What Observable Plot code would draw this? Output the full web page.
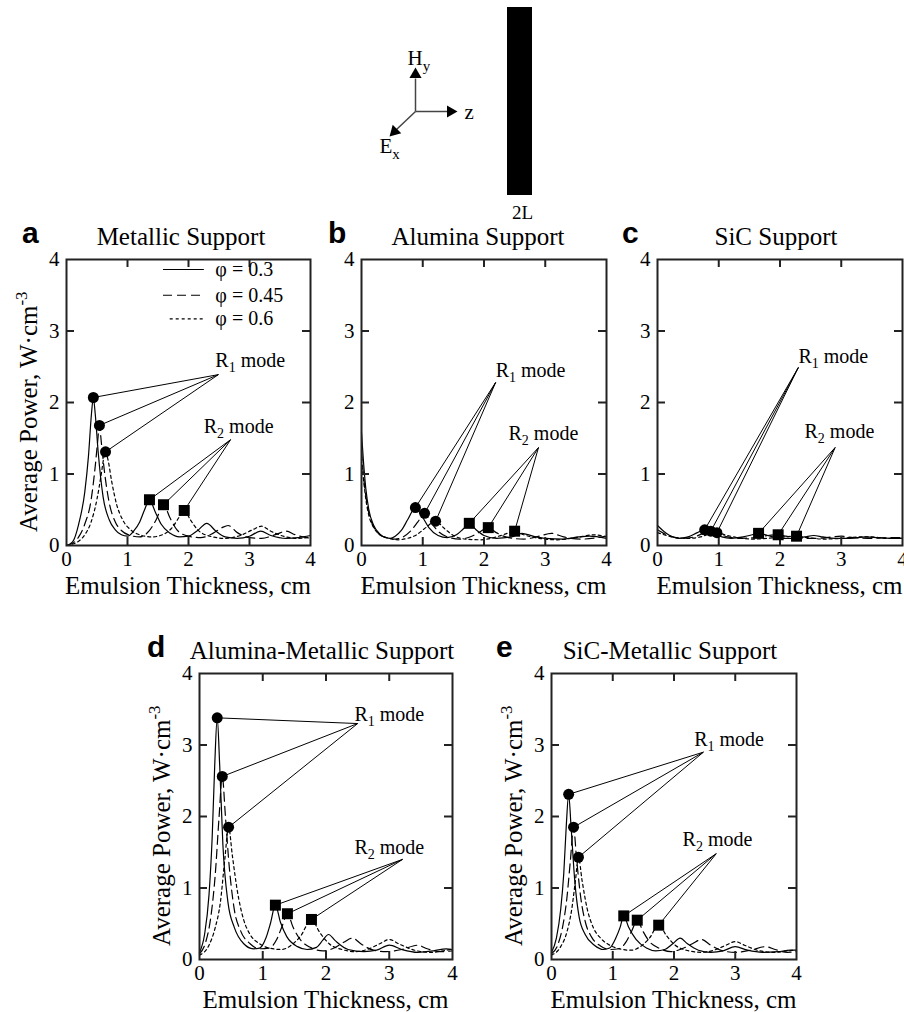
<!DOCTYPE html>
<html><head><meta charset="utf-8">
<script src="https://cdn.jsdelivr.net/npm/d3@7"></script>
<script src="https://cdn.jsdelivr.net/npm/@observablehq/plot@0.6"></script>
<style>
html,body{margin:0;padding:0;background:#fff;}
#page{position:relative;width:904px;height:1012px;overflow:hidden;background:#fff;font-family:"Liberation Serif","Times New Roman",serif;}
#page > svg{position:absolute;}
#page svg text{font-family:"Liberation Serif","Times New Roman",serif;}
#page svg text.letter{font-family:"Liberation Sans",Arial,sans-serif;font-weight:bold;}
</style></head>
<body><div id="page"></div>
<script>
// ---------- data ----------
const ticksAll = [0, 1, 2, 3, 4];
const ticksInner = [1, 2, 3];
const legendLabels = ["φ = 0.3", "φ = 0.45", "φ = 0.6"];
const legendY = [3.86, 3.5, 3.17];
const legendX1 = [1.59, 1.59, 1.7];
const legendX2 = 2.26;
const legendTextX = 2.44;
const panelLetters = ["a", "b", "c", "d", "e"];
const panelTitles = ["Metallic Support", "Alumina Support", "SiC Support", "Alumina-Metallic Support", "SiC-Metallic Support"];
const xTitle = "Emulsion Thickness, cm";
const yTitle = "Average Power, W·cm";
const yTitleSup = "-3";
const r1Text = "R_1 mode";
const r2Text = "R_2 mode";

// Panel a: Metallic support
const aSolid = [[0,0],[0.1,0.05],[0.2,0.3],[0.3,0.75],[0.36,1.25],[0.41,1.85],[0.44,2.07],[0.47,1.85],[0.52,1.3],[0.6,0.68],[0.7,0.36],[0.8,0.22],[0.9,0.15],[1.0,0.13],[1.1,0.2],[1.2,0.33],[1.28,0.5],[1.36,0.64],[1.45,0.48],[1.55,0.3],[1.7,0.17],[1.85,0.12],[2.0,0.13],[2.15,0.21],[2.3,0.31],[2.45,0.2],[2.6,0.12],[2.8,0.1],[3.0,0.13],[3.18,0.2],[3.35,0.14],[3.6,0.1],[3.8,0.11],[4.0,0.14]];
const aDashed = [[0,0],[0.1,0.03],[0.2,0.12],[0.3,0.3],[0.4,0.62],[0.47,1.1],[0.51,1.45],[0.54,1.68],[0.57,1.45],[0.62,1.05],[0.7,0.6],[0.8,0.33],[0.9,0.21],[1.05,0.14],[1.2,0.12],[1.35,0.2],[1.47,0.36],[1.59,0.57],[1.7,0.38],[1.82,0.21],[2.0,0.13],[2.2,0.11],[2.4,0.17],[2.55,0.25],[2.65,0.28],[2.8,0.18],[3.0,0.11],[3.2,0.1],[3.45,0.16],[3.6,0.2],[3.75,0.15],[4.0,0.1]];
const aDotted = [[0,0],[0.2,0.06],[0.3,0.15],[0.4,0.32],[0.5,0.65],[0.57,1.0],[0.61,1.22],[0.64,1.31],[0.68,1.2],[0.74,0.9],[0.82,0.58],[0.92,0.36],[1.05,0.22],[1.2,0.15],[1.4,0.12],[1.6,0.16],[1.75,0.27],[1.85,0.4],[1.93,0.49],[2.03,0.36],[2.15,0.22],[2.35,0.13],[2.6,0.1],[2.85,0.14],[3.05,0.22],[3.2,0.27],[3.35,0.2],[3.6,0.12],[3.8,0.1],[4.0,0.12]];
const aR1 = [[0.44,2.07],[0.54,1.68],[0.64,1.31]];
const aR2 = [[1.36,0.64],[1.59,0.57],[1.93,0.49]];
const aR1Focus = [2.49,2.39], aR2Focus = [2.69,1.48];
const aR1Label = [2.44,2.49], aR2Label = [2.25,1.58];

// Panel b: Alumina support
const bSolid = [[0,1.58],[0.03,1.2],[0.07,0.8],[0.12,0.5],[0.2,0.28],[0.3,0.16],[0.4,0.11],[0.47,0.1],[0.55,0.13],[0.65,0.21],[0.76,0.37],[0.88,0.53],[0.98,0.42],[1.1,0.25],[1.25,0.14],[1.4,0.11],[1.55,0.15],[1.66,0.23],[1.76,0.31],[1.87,0.22],[2.0,0.14],[2.2,0.1],[2.45,0.12],[2.62,0.17],[2.8,0.13],[3.0,0.1],[3.3,0.09],[3.55,0.12],[3.72,0.13],[4.0,0.1]];
const bDashed = [[0,1.32],[0.03,1.0],[0.07,0.7],[0.12,0.45],[0.2,0.26],[0.3,0.15],[0.45,0.1],[0.55,0.09],[0.68,0.12],[0.8,0.2],[0.92,0.33],[1.03,0.45],[1.13,0.33],[1.25,0.2],[1.4,0.12],[1.6,0.09],[1.8,0.13],[1.95,0.2],[2.07,0.25],[2.2,0.18],[2.4,0.11],[2.65,0.09],[2.9,0.13],[3.1,0.17],[3.3,0.12],[3.6,0.09],[3.85,0.11],[4.0,0.13]];
const bDotted = [[0,1.2],[0.03,0.95],[0.07,0.65],[0.12,0.42],[0.2,0.25],[0.3,0.15],[0.45,0.1],[0.6,0.08],[0.75,0.1],[0.9,0.15],[1.05,0.25],[1.21,0.34],[1.35,0.24],[1.5,0.14],[1.7,0.09],[1.95,0.08],[2.2,0.12],[2.38,0.17],[2.5,0.2],[2.65,0.15],[2.9,0.1],[3.2,0.08],[3.5,0.11],[3.8,0.15],[4.0,0.12]];
const bR1 = [[0.88,0.53],[1.03,0.45],[1.21,0.34]];
const bR2 = [[1.76,0.31],[2.07,0.25],[2.5,0.2]];
const bR1Focus = [2.19,2.28], bR2Focus = [2.89,1.37];
const bR1Label = [2.19,2.35], bR2Label = [2.4,1.47];

// Panel c: SiC support
const cSolid = [[0,0.28],[0.1,0.2],[0.2,0.14],[0.35,0.1],[0.5,0.12],[0.65,0.18],[0.77,0.22],[0.9,0.18],[1.05,0.12],[1.2,0.1],[1.4,0.12],[1.55,0.15],[1.65,0.17],[1.8,0.14],[2.0,0.1],[2.2,0.1],[2.4,0.12],[2.55,0.14],[2.7,0.12],[2.9,0.1],[3.15,0.1],[3.4,0.12],[3.6,0.11],[3.8,0.1],[4.0,0.1]];
const cDashed = [[0,0.22],[0.1,0.17],[0.25,0.12],[0.4,0.1],[0.6,0.12],[0.75,0.17],[0.87,0.2],[1.0,0.16],[1.15,0.12],[1.35,0.1],[1.6,0.11],[1.8,0.14],[1.97,0.15],[2.1,0.13],[2.35,0.1],[2.6,0.1],[2.85,0.12],[3.0,0.13],[3.2,0.11],[3.5,0.1],[3.8,0.11],[4.0,0.11]];
const cDotted = [[0,0.18],[0.15,0.14],[0.3,0.11],[0.5,0.1],[0.7,0.12],[0.85,0.16],[0.97,0.18],[1.1,0.15],[1.3,0.11],[1.55,0.09],[1.8,0.1],[2.05,0.12],[2.27,0.13],[2.45,0.11],[2.7,0.09],[3.0,0.1],[3.3,0.12],[3.5,0.12],[3.75,0.1],[4.0,0.1]];
const cR1 = [[0.77,0.22],[0.87,0.2],[0.97,0.18]];
const cR2 = [[1.65,0.17],[1.97,0.15],[2.27,0.13]];
const cR1Focus = [2.3,2.49], cR2Focus = [2.9,1.37];
const cR1Label = [2.3,2.55], cR2Label = [2.4,1.51];

// Panel d: Alumina-Metallic support
const dSolid = [[0,0.1],[0.08,0.35],[0.15,0.9],[0.2,1.7],[0.24,2.7],[0.28,3.38],[0.32,2.7],[0.37,1.6],[0.45,0.8],[0.55,0.45],[0.7,0.22],[0.85,0.15],[0.95,0.16],[1.05,0.3],[1.12,0.5],[1.2,0.76],[1.28,0.52],[1.38,0.32],[1.55,0.18],[1.7,0.14],[1.85,0.17],[1.95,0.27],[2.04,0.35],[2.15,0.26],[2.35,0.14],[2.6,0.11],[2.8,0.13],[3.0,0.2],[3.2,0.14],[3.45,0.1],[3.7,0.12],[3.9,0.15],[4.0,0.14]];
const dDashed = [[0,0.08],[0.1,0.25],[0.18,0.6],[0.25,1.2],[0.31,2.0],[0.36,2.56],[0.41,2.0],[0.47,1.3],[0.55,0.7],[0.65,0.4],[0.8,0.22],[0.95,0.15],[1.1,0.16],[1.22,0.28],[1.3,0.45],[1.39,0.64],[1.48,0.45],[1.6,0.27],[1.75,0.17],[1.95,0.12],[2.1,0.15],[2.28,0.24],[2.42,0.3],[2.55,0.22],[2.75,0.13],[2.95,0.11],[3.2,0.14],[3.45,0.2],[3.6,0.15],[3.8,0.11],[4.0,0.12]];
const dDotted = [[0,0.06],[0.15,0.2],[0.25,0.45],[0.33,0.8],[0.4,1.4],[0.46,1.85],[0.52,1.45],[0.6,0.95],[0.7,0.55],[0.8,0.35],[0.95,0.22],[1.1,0.16],[1.3,0.14],[1.45,0.2],[1.6,0.33],[1.77,0.56],[1.9,0.38],[2.05,0.22],[2.25,0.14],[2.45,0.11],[2.65,0.14],[2.85,0.22],[3.0,0.28],[3.15,0.22],[3.4,0.13],[3.65,0.1],[3.85,0.12],[4.0,0.15]];
const dR1 = [[0.28,3.38],[0.36,2.56],[0.46,1.85]];
const dR2 = [[1.2,0.76],[1.39,0.64],[1.77,0.56]];
const dR1Focus = [2.5,3.3], dR2Focus = [3.21,1.4];
const dR1Label = [2.45,3.34], dR2Label = [2.45,1.48];

// Panel e: SiC-Metallic support
const eSolid = [[0,0.1],[0.08,0.3],[0.15,0.7],[0.2,1.2],[0.24,1.85],[0.28,2.31],[0.32,1.85],[0.38,1.1],[0.45,0.6],[0.55,0.35],[0.7,0.2],[0.85,0.14],[0.95,0.16],[1.05,0.3],[1.12,0.45],[1.18,0.61],[1.26,0.45],[1.38,0.28],[1.55,0.16],[1.7,0.12],[1.85,0.14],[1.98,0.22],[2.1,0.3],[2.22,0.22],[2.4,0.13],[2.6,0.1],[2.8,0.12],[3.0,0.18],[3.2,0.13],[3.45,0.1],[3.7,0.11],[3.9,0.13],[4.0,0.13]];
const eDashed = [[0,0.08],[0.1,0.2],[0.18,0.45],[0.25,0.85],[0.31,1.4],[0.36,1.85],[0.41,1.4],[0.48,0.85],[0.56,0.5],[0.65,0.32],[0.8,0.19],[0.95,0.14],[1.1,0.15],[1.22,0.25],[1.31,0.4],[1.4,0.55],[1.49,0.4],[1.6,0.25],[1.75,0.16],[1.95,0.11],[2.1,0.14],[2.3,0.22],[2.45,0.28],[2.6,0.2],[2.8,0.12],[3.0,0.1],[3.25,0.13],[3.5,0.18],[3.65,0.14],[3.85,0.1],[4.0,0.11]];
const eDotted = [[0,0.06],[0.15,0.18],[0.25,0.38],[0.33,0.7],[0.39,1.1],[0.44,1.43],[0.5,1.1],[0.58,0.72],[0.68,0.45],[0.8,0.3],[0.95,0.2],[1.1,0.15],[1.3,0.13],[1.45,0.18],[1.6,0.3],[1.75,0.48],[1.88,0.33],[2.02,0.2],[2.2,0.13],[2.45,0.1],[2.65,0.13],[2.85,0.2],[3.0,0.25],[3.15,0.2],[3.4,0.12],[3.65,0.1],[3.85,0.12],[4.0,0.13]];
const eR1 = [[0.28,2.31],[0.36,1.85],[0.44,1.43]];
const eR2 = [[1.18,0.61],[1.4,0.55],[1.75,0.48]];
const eR1Focus = [2.48,2.9], eR2Focus = [2.69,1.48];
const eR1Label = [2.33,2.99], eR2Label = [2.14,1.59];

// Schematic (pixel units of the schematic drawing)
const diagOrigin = [415, 111];
const diagShafts = [[415, 78], [448, 111], [396, 129]];
const diagHeads = [[415, 74, 0], [450, 111, 90], [394, 131, -135]];
const diagLabels = [["H_y", 407, 64], ["z", 464, 118], ["E_x", 379, 152]];
const slab = [[507, 532, 7, 195]];
const slabLabel = ["2L", 522, 218];

// ---------- layout / style ----------
const dashes = [null, "9,5", "3,3"];
const layout = [
  {fl: 66,  ft: 259, fw: 244, yT: true,  lx: 22,  tx: 181},
  {fl: 361, ft: 259, fw: 245, yT: false, lx: 328, tx: 478},
  {fl: 657, ft: 259, fw: 245, yT: false, lx: 622, tx: 776},
  {fl: 199, ft: 673, fw: 253, yT: true,  lx: 147, tx: 322},
  {fl: 551, ft: 673, fw: 245, yT: true,  lx: 496, tx: 670}
];
const FH = 286;
const page = document.getElementById("page");
const FONT = "'Liberation Serif','Times New Roman',serif";

function subify(svg, subSize, shift) {
  d3.select(svg).selectAll("text").each(function () {
    const t = this.textContent;
    const m = t.match(/^([^_]*)_(\S)(.*)$/);
    if (!m) return;
    const sel = d3.select(this);
    sel.text(null);
    sel.append("tspan").text(m[1]);
    sel.append("tspan").attr("dy", shift).attr("font-size", subSize).text(m[2]);
    if (m[3]) sel.append("tspan").attr("dy", -shift).text(m[3]);
  });
}

const panels = [
  {curves: [aSolid, aDashed, aDotted], r1: aR1, r2: aR2, f1: aR1Focus, f2: aR2Focus, l1: aR1Label, l2: aR2Label, legend: true},
  {curves: [bSolid, bDashed, bDotted], r1: bR1, r2: bR2, f1: bR1Focus, f2: bR2Focus, l1: bR1Label, l2: bR2Label},
  {curves: [cSolid, cDashed, cDotted], r1: cR1, r2: cR2, f1: cR1Focus, f2: cR2Focus, l1: cR1Label, l2: cR2Label},
  {curves: [dSolid, dDashed, dDotted], r1: dR1, r2: dR2, f1: dR1Focus, f2: dR2Focus, l1: dR1Label, l2: dR2Label},
  {curves: [eSolid, eDashed, eDotted], r1: eR1, r2: eR2, f1: eR1Focus, f2: eR2Focus, l1: eR1Label, l2: eR2Label}
];

panels.forEach((p, i) => {
  const L = layout[i];
  const mL = 45, mT = 12, mR = 12, mB = 30;
  const kx = 8 / (L.fw / 4), ky = 8 / (FH / 4);
  const marks = [];
  p.curves.forEach((c, j) => {
    marks.push(Plot.line(c, {x: d => d[0], y: d => d[1], stroke: "#000", strokeWidth: 1.2,
      strokeDasharray: dashes[j], curve: "monotone-x"}));
  });
  marks.push(Plot.ruleX(ticksInner, {x: d => d, y1: 0, y2: ky, stroke: "#222", strokeWidth: 2}));
  marks.push(Plot.ruleX(ticksInner, {x: d => d, y1: 4 - ky, y2: 4, stroke: "#222", strokeWidth: 2}));
  marks.push(Plot.ruleY(ticksInner, {y: d => d, x1: 0, x2: kx, stroke: "#222", strokeWidth: 2}));
  marks.push(Plot.ruleY(ticksInner, {y: d => d, x1: 4 - kx, x2: 4, stroke: "#222", strokeWidth: 2}));
  marks.push(Plot.frame({stroke: "#222", strokeWidth: 2}));
  marks.push(Plot.axisX(ticksAll, {tickSize: 0, tickPadding: 6, fontSize: 21, fontFamily: FONT, tickFormat: d => String(d), label: null}));
  marks.push(Plot.axisY(ticksAll, {tickSize: 0, tickPadding: 7, fontSize: 21, fontFamily: FONT, tickFormat: d => String(d), label: null}));
  marks.push(Plot.link(p.r1, {x1: () => p.f1[0], y1: () => p.f1[1], x2: d => d[0], y2: d => d[1], stroke: "#000", strokeWidth: 1}));
  marks.push(Plot.link(p.r2, {x1: () => p.f2[0], y1: () => p.f2[1], x2: d => d[0], y2: d => d[1], stroke: "#000", strokeWidth: 1}));
  marks.push(Plot.dot(p.r1, {x: d => d[0], y: d => d[1], r: 5.5, fill: "#000", stroke: null}));
  marks.push(Plot.dot(p.r2, {x: d => d[0], y: d => d[1], r: 6.2, symbol: "square", fill: "#000", stroke: null}));
  marks.push(Plot.text([[r1Text, ...p.l1], [r2Text, ...p.l2]], {x: d => d[1], y: d => d[2], text: d => d[0],
    textAnchor: "start", lineAnchor: "bottom", fontSize: 20, fontFamily: FONT, fill: "#000"}));
  if (p.legend) {
    legendLabels.forEach((t, k) => {
      marks.push(Plot.ruleY([legendY[k]], {y: d => d, x1: legendX1[k], x2: legendX2,
        stroke: "#000", strokeWidth: 1.2, strokeDasharray: dashes[k]}));
    });
    marks.push(Plot.text(legendLabels, {x: () => legendTextX, y: (d, k) => legendY[k], text: d => d,
      textAnchor: "start", lineAnchor: "middle", fontSize: 20, fontFamily: FONT, fill: "#000"}));
  }
  const svg = Plot.plot({
    width: mL + L.fw + mR, height: mT + FH + mB,
    marginLeft: mL, marginTop: mT, marginRight: mR, marginBottom: mB,
    x: {domain: [0, 4], label: null},
    y: {domain: [0, 4], label: null},
    style: {fontFamily: FONT, fontSize: "20px", background: "transparent", overflow: "visible", color: "#000"},
    marks
  });
  svg.style.left = (L.fl - mL) + "px";
  svg.style.top = (L.ft - mT) + "px";
  svg.style.position = "absolute";
  page.appendChild(svg);
  subify(svg, 14, 5);
});

// ---------- schematic ----------
const diag = Plot.plot({
  width: 904, height: 222, margin: 0,
  x: {domain: [0, 904], axis: null},
  y: {domain: [222, 0], axis: null},
  style: {fontFamily: FONT, fontSize: "20px", background: "transparent", overflow: "visible"},
  marks: [
    Plot.rect(slab, {x1: d => d[0], x2: d => d[1], y1: d => d[2], y2: d => d[3], fill: "#000"}),
    Plot.link(diagShafts, {x1: () => diagOrigin[0], y1: () => diagOrigin[1], x2: d => d[0], y2: d => d[1], stroke: "#444", strokeWidth: 1.5}),
    Plot.dot(diagHeads, {x: d => d[0], y: d => d[1], rotate: d => d[2], symbol: "triangle", r: 4.5, fill: "#000", stroke: null}),
    Plot.text(diagLabels, {x: d => d[1], y: d => d[2], text: d => d[0], textAnchor: "start", lineAnchor: "bottom", fontSize: 21, fontFamily: FONT, fill: "#000"}),
    Plot.text([slabLabel], {x: d => d[1], y: d => d[2], text: d => d[0], textAnchor: "middle", lineAnchor: "bottom", fontSize: 19, fontFamily: FONT, fill: "#000"})
  ]
});
diag.style.left = "0px"; diag.style.top = "0px"; diag.style.position = "absolute";
page.appendChild(diag);
subify(diag, 15, 6);

// ---------- titles / axis titles overlay ----------
const overlay = d3.select(page).append("svg")
  .attr("width", 904).attr("height", 1012)
  .style("position", "absolute").style("left", "0px").style("top", "0px")
  .style("pointer-events", "none").style("font-family", FONT);
layout.forEach((L, i) => {
  overlay.append("text").attr("class", "letter").attr("x", L.lx).attr("y", L.ft - 16)
    .attr("font-size", 30).text(panelLetters[i]);
  overlay.append("text").attr("x", L.tx).attr("y", L.ft - 14).attr("text-anchor", "middle")
    .attr("font-size", 25).text(panelTitles[i]);
  overlay.append("text").attr("x", L.fl + L.fw / 2).attr("y", L.ft + FH + 49).attr("text-anchor", "middle")
    .attr("font-size", 25).text(xTitle);
  if (L.yT) {
    const t = overlay.append("text")
      .attr("transform", `translate(${L.fl - 29},${L.ft + FH - 13}) rotate(-90)`)
      .attr("font-size", 25).attr("text-anchor", "start");
    t.append("tspan").text(yTitle);
    t.append("tspan").attr("dy", -10).attr("font-size", 17).text(yTitleSup);
  }
});
</script>
</body></html>
